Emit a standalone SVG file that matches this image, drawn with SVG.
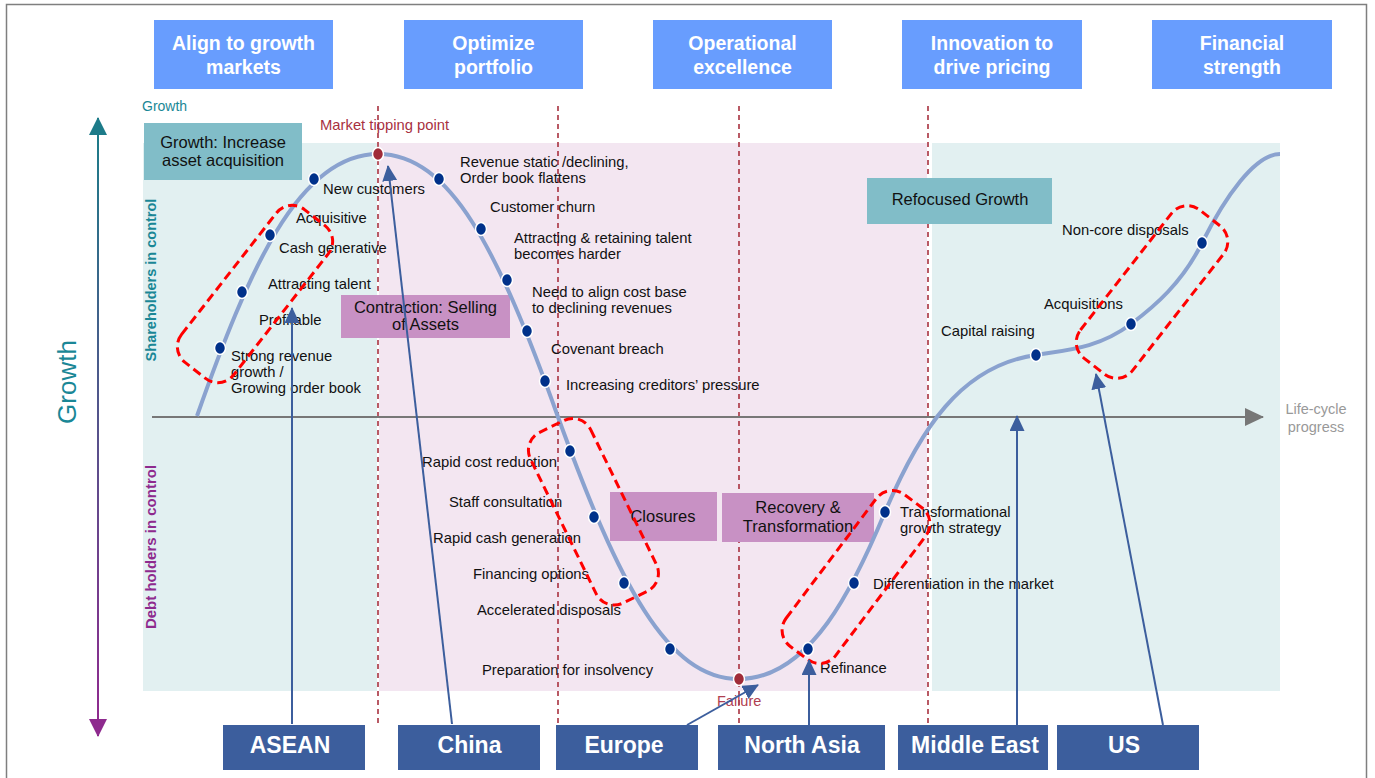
<svg xmlns="http://www.w3.org/2000/svg" width="1375" height="778" viewBox="0 0 1375 778">
<style>
.hdr{fill:#689dfe}
.hdrt{font-family:"Liberation Sans",Arial,sans-serif;font-weight:bold;font-size:19.5px;fill:#fff;text-anchor:middle}
.lbl{font-family:"Liberation Sans",Arial,sans-serif;font-size:14.8px;fill:#111}
.bt{font-family:"Liberation Sans",Arial,sans-serif;font-size:16.5px;fill:#111;text-anchor:middle}
.pinkbox{fill:#c891c4}
.tealbox{fill:#81bdc8}
.reg{fill:#3c5e9d}
.regt{font-family:"Liberation Sans",Arial,sans-serif;font-weight:bold;font-size:23px;fill:#fff;text-anchor:middle}
.vdash{stroke:#a8313f;stroke-width:1.6;stroke-dasharray:5 4;fill:none}
.outline{fill:none;stroke:#ff0000;stroke-width:3;stroke-dasharray:9 5}
.dot{fill:#00318a;stroke:#fff;stroke-width:1.5}
.rdot{fill:#a02b38;stroke:#fff;stroke-width:1.5}
.conn{stroke:#3c5e9d;stroke-width:2;fill:none;marker-end:url(#ah)}
</style>
<defs>
<marker id="ah" markerUnits="userSpaceOnUse" markerWidth="16" markerHeight="15" refX="15" refY="7.5" orient="auto" viewBox="0 0 16 15"><path d="M0,0 L16,7.5 L0,15 z" fill="#3c5e9d"/></marker>
<marker id="gah" markerUnits="userSpaceOnUse" markerWidth="19" markerHeight="18" refX="18" refY="9" orient="auto" viewBox="0 0 19 18"><path d="M0,0 L19,9 L0,18 z" fill="#777"/></marker>
<marker id="tah" markerUnits="userSpaceOnUse" markerWidth="18" markerHeight="18" refX="17" refY="9" orient="auto-start-reverse" viewBox="0 0 18 18"><path d="M0,0 L18,9 L0,18 z" fill="#1d7b89"/></marker>
<marker id="pah" markerUnits="userSpaceOnUse" markerWidth="18" markerHeight="18" refX="17" refY="9" orient="auto" viewBox="0 0 18 18"><path d="M0,0 L18,9 L0,18 z" fill="#8e2a8e"/></marker>
<linearGradient id="vg" gradientUnits="userSpaceOnUse" x1="0" y1="133" x2="0" y2="719"><stop offset="0" stop-color="#1d7b89"/><stop offset="1" stop-color="#8e2a8e"/></linearGradient>
</defs>

<rect x="6.5" y="4.5" width="1360" height="800" fill="#fff" stroke="#7f7f7f" stroke-width="1.5"/>

<g id="panels">
<rect x="143" y="143" width="234" height="548" fill="#e2f0f1"/>
<rect x="379" y="143" width="548" height="548" fill="#f3e6f1"/>
<rect x="932" y="143" width="348" height="548" fill="#e2f0f1"/>
</g>

<g id="dividers">
<line class="vdash" x1="378" y1="106" x2="378" y2="723"/>
<line class="vdash" x1="558" y1="106" x2="558" y2="723"/>
<line class="vdash" x1="739" y1="106" x2="739" y2="723"/>
<line class="vdash" x1="928" y1="106" x2="928" y2="723"/>
</g>

<g id="headers">
<g id="h-align"><rect class="hdr" x="154" y="20" width="179" height="69"/><text class="hdrt" x="243.5" y="50">Align to growth</text><text class="hdrt" x="243.5" y="74">markets</text></g>
<g id="h-optimize"><rect class="hdr" x="404" y="20" width="179" height="69"/><text class="hdrt" x="493.5" y="50">Optimize</text><text class="hdrt" x="493.5" y="74">portfolio</text></g>
<g id="h-operational"><rect class="hdr" x="653" y="20" width="179" height="69"/><text class="hdrt" x="742.5" y="50">Operational</text><text class="hdrt" x="742.5" y="74">excellence</text></g>
<g id="h-innovation"><rect class="hdr" x="902" y="20" width="180" height="69"/><text class="hdrt" x="992" y="50">Innovation to</text><text class="hdrt" x="992" y="74">drive pricing</text></g>
<g id="h-financial"><rect class="hdr" x="1152" y="20" width="180" height="69"/><text class="hdrt" x="1242" y="50">Financial</text><text class="hdrt" x="1242" y="74">strength</text></g>
</g>

<g id="axes">
<line x1="98" y1="118" x2="98" y2="736" stroke="url(#vg)" stroke-width="2" marker-start="url(#tah)" marker-end="url(#pah)"/>
<text x="0" y="0" transform="translate(76,382) rotate(-90)" font-family="Liberation Sans, Arial, sans-serif" font-size="26" fill="#1a8796" text-anchor="middle">Growth</text>
<text x="142" y="111" font-family="Liberation Sans, Arial, sans-serif" font-size="14" fill="#1a8796">Growth</text>
<text x="0" y="0" transform="translate(156,280) rotate(-90)" font-family="Liberation Sans, Arial, sans-serif" font-size="14.5" font-weight="bold" fill="#1a8796" text-anchor="middle">Shareholders in control</text>
<text x="0" y="0" transform="translate(156,547) rotate(-90)" font-family="Liberation Sans, Arial, sans-serif" font-size="15" font-weight="bold" fill="#8e2a8e" text-anchor="middle">Debt holders in control</text>
<line x1="152" y1="417" x2="1263" y2="417" stroke="#777" stroke-width="2" marker-end="url(#gah)"/>
<text x="1316" y="414" font-family="Liberation Sans, Arial, sans-serif" font-size="14.5" fill="#999" text-anchor="middle">Life-cycle</text>
<text x="1316" y="432" font-family="Liberation Sans, Arial, sans-serif" font-size="14.5" fill="#999" text-anchor="middle">progress</text>
</g>

<g id="stage-boxes">
<g id="growth-box"><rect class="tealbox" x="144" y="123" width="158" height="57"/><text class="bt" x="223" y="148">Growth: Increase</text><text class="bt" x="223" y="166">asset acquisition</text></g>
<g id="contraction-box"><rect class="pinkbox" x="341" y="295" width="169" height="43"/><text class="bt" x="425.5" y="313">Contraction: Selling</text><text class="bt" x="425.5" y="330">of Assets</text></g>
<g id="closures-box"><rect class="pinkbox" x="610" y="492" width="107" height="49"/><text class="bt" x="663" y="522">Closures</text></g>
<g id="recovery-box"><rect class="pinkbox" x="722" y="493" width="152" height="49"/><text class="bt" x="798" y="513">Recovery &amp;</text><text class="bt" x="798" y="532">Transformation</text></g>
<g id="refocused-box"><rect class="tealbox" x="867" y="178" width="185" height="46"/><text class="bt" x="960" y="205">Refocused Growth</text></g>
</g>

<g id="curve">
<path d="M197,416 C248,272 298,154 378,154 C450,154 498,249 558,417 C619,584 667,679 739,679 C811,679 855,584 885,512 C920,430 960,366 1036,355 C1068,350 1099,348 1131,324 C1155,306 1182,283 1202,243 C1225,197 1255,154 1280,154" fill="none" stroke="#8aa2cf" stroke-width="4"/>
</g>

<g id="labels">
<text class="lbl" x="323" y="194">New customers</text>
<text class="lbl" x="296" y="223">Acquisitive</text>
<text class="lbl" x="279" y="253">Cash generative</text>
<text class="lbl" x="268" y="289">Attracting talent</text>
<text class="lbl" x="259" y="325">Profitable</text>
<text class="lbl" x="231" y="361">Strong revenue</text>
<text class="lbl" x="231" y="377">growth /</text>
<text class="lbl" x="231" y="393">Growing order book</text>
<text class="lbl" x="460" y="167">Revenue static /declining,</text>
<text class="lbl" x="460" y="183">Order book flattens</text>
<text class="lbl" x="490" y="212">Customer churn</text>
<text class="lbl" x="514" y="243">Attracting &amp; retaining talent</text>
<text class="lbl" x="514" y="259">becomes harder</text>
<text class="lbl" x="532" y="297">Need to align cost base</text>
<text class="lbl" x="532" y="313">to declining revenues</text>
<text class="lbl" x="551" y="354">Covenant breach</text>
<text class="lbl" x="566" y="390">Increasing creditors’ pressure</text>
<text class="lbl" x="422" y="467">Rapid cost reduction</text>
<text class="lbl" x="449" y="507">Staff consultation</text>
<text class="lbl" x="433" y="543">Rapid cash generation</text>
<text class="lbl" x="473" y="579">Financing options</text>
<text class="lbl" x="477" y="615">Accelerated disposals</text>
<text class="lbl" x="482" y="675">Preparation for insolvency</text>
<text class="lbl" x="820" y="673">Refinance</text>
<text class="lbl" x="873" y="589">Differentiation in the market</text>
<text class="lbl" x="900" y="517">Transformational</text>
<text class="lbl" x="900" y="533">growth strategy</text>
<text class="lbl" x="941" y="336">Capital raising</text>
<text class="lbl" x="1044" y="309">Acquisitions</text>
<text class="lbl" x="1062" y="235">Non-core disposals</text>
<text x="320" y="130" font-family="Liberation Sans, Arial, sans-serif" font-size="14.8" fill="#a8313f">Market tipping point</text>
<text x="717" y="706" font-family="Liberation Sans, Arial, sans-serif" font-size="14.5" fill="#b04050">Failure</text>
</g>

<g id="dots">
<ellipse class="dot" cx="220" cy="348" rx="5.5" ry="6.5"/>
<ellipse class="dot" cx="242" cy="292" rx="5.5" ry="6.5"/>
<ellipse class="dot" cx="270" cy="235" rx="5.5" ry="6.5"/>
<ellipse class="dot" cx="314" cy="179" rx="5.5" ry="6.5"/>
<ellipse class="dot" cx="439" cy="179" rx="5.5" ry="6.5"/>
<ellipse class="dot" cx="481" cy="229" rx="5.5" ry="6.5"/>
<ellipse class="dot" cx="507" cy="280" rx="5.5" ry="6.5"/>
<ellipse class="dot" cx="527" cy="331" rx="5.5" ry="6.5"/>
<ellipse class="dot" cx="545" cy="381" rx="5.5" ry="6.5"/>
<ellipse class="dot" cx="570" cy="451" rx="5.5" ry="6.5"/>
<ellipse class="dot" cx="594" cy="517" rx="5.5" ry="6.5"/>
<ellipse class="dot" cx="624" cy="583" rx="5.5" ry="6.5"/>
<ellipse class="dot" cx="670" cy="649" rx="5.5" ry="6.5"/>
<ellipse class="dot" cx="808" cy="649" rx="5.5" ry="6.5"/>
<ellipse class="dot" cx="854" cy="583" rx="5.5" ry="6.5"/>
<ellipse class="dot" cx="885" cy="512" rx="5.5" ry="6.5"/>
<ellipse class="dot" cx="1036" cy="355" rx="5.5" ry="6.5"/>
<ellipse class="dot" cx="1131" cy="324" rx="5.5" ry="6.5"/>
<ellipse class="dot" cx="1202" cy="243" rx="5.5" ry="6.5"/>
<ellipse class="rdot" cx="378" cy="154" rx="5.5" ry="6.5"/>
<ellipse class="rdot" cx="739" cy="679" rx="5.5" ry="6.5"/>
</g>

<g id="highlights">
<rect class="outline" x="-97" y="-33" width="194" height="66" rx="20" transform="translate(255,294) rotate(-52)"/>
<rect class="outline" x="-95" y="-34" width="190" height="67" rx="20" transform="translate(593,512) rotate(64)"/>
<rect class="outline" x="-95" y="-31" width="190" height="62" rx="20" transform="translate(856,577) rotate(-53)"/>
<rect class="outline" x="-94" y="-33" width="188" height="66" rx="20" transform="translate(1152,292) rotate(-52)"/>
</g>

<g id="regions">
<g id="r-asean"><rect class="reg" x="223" y="725" width="142" height="45"/><text class="regt" x="290" y="753">ASEAN</text></g>
<g id="r-china"><rect class="reg" x="398" y="725" width="142" height="45"/><text class="regt" x="469.5" y="753">China</text></g>
<g id="r-europe"><rect class="reg" x="556" y="725" width="142" height="45"/><text class="regt" x="624" y="753">Europe</text></g>
<g id="r-northasia"><rect class="reg" x="718" y="725" width="167" height="45"/><text class="regt" x="802" y="753">North Asia</text></g>
<g id="r-middleeast"><rect class="reg" x="898" y="725" width="150" height="45"/><text class="regt" x="975" y="753">Middle East</text></g>
<g id="r-us"><rect class="reg" x="1057" y="725" width="142" height="45"/><text class="regt" x="1124" y="753">US</text></g>
</g>

<g id="connectors">
<line class="conn" x1="292" y1="724" x2="292" y2="308"/>
<line class="conn" x1="452" y1="724" x2="388" y2="166"/>
<line class="conn" x1="687" y1="725" x2="758" y2="685"/>
<line class="conn" x1="809" y1="725" x2="809" y2="660"/>
<line class="conn" x1="1017" y1="725" x2="1017" y2="416"/>
<line class="conn" x1="1163" y1="725" x2="1096" y2="374"/>
</g>
</svg>
